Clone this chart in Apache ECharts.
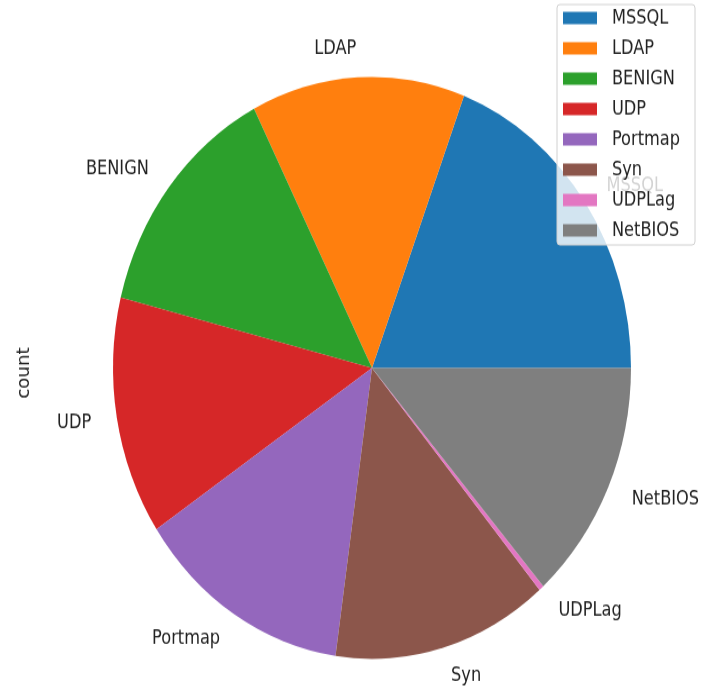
<!DOCTYPE html>
<html>
<head>
<meta charset="utf-8">
<script src="https://cdn.jsdelivr.net/npm/echarts@6/dist/echarts.min.js"></script>
<style>
html,body{margin:0;padding:0;background:#fff;overflow:hidden;}
#wrap{width:703px;height:691px;overflow:hidden;}
#chart{width:703px;height:615px;transform:scaleY(1.1236);transform-origin:0 0;}
</style>
</head>
<body>
<div id="wrap"><div id="chart"></div></div>
<script>
const categories = ['MSSQL','LDAP','BENIGN','UDP','Portmap','Syn','UDPLag','NetBIOS'];
const counts = [69.2, 47.9, 48.9, 47.7, 48.2, 48.4, 1.1, 48.6];
const colors = ['#1f77b4','#ff7f0e','#2ca02c','#d62728','#9467bd','#8c564b','#e377c2','#7f7f7f'];
const yLabel = 'count';

const FONT = "'DejaVu Sans Condensed', 'DejaVu Sans', sans-serif";
const chart = echarts.init(document.getElementById('chart'), null, {renderer:'canvas'});
const data = categories.map((c,i)=>({name:c, value:counts[i], itemStyle:{color:colors[i]}}));
chart.setOption({
  animation:false,
  legend:{
    orient:'vertical', left:557, top:4,
    padding:[3,15,4,6],
    itemWidth:34, itemHeight:11, itemGap:9,
    icon:'rect',
    backgroundColor:'rgba(255,255,255,0.8)',
    borderColor:'#d0d0d0', borderWidth:1, borderRadius:3,
    textStyle:{fontFamily:FONT, fontSize:18, color:'#222', padding:[0,0,0,10]},
    data:categories
  },
  graphic:[{
    type:'text', x:24, y:332, rotation:Math.PI/2,
    style:{text:yLabel, font:'18px ' + FONT, fill:'#222', align:'center', verticalAlign:'middle'}
  }],
  series:[{
    type:'pie',
    center:[372,327.4],
    radius:259,
    startAngle:0,
    clockwise:false,
    avoidLabelOverlap:false,
    itemStyle:{borderWidth:0},
    label:{show:true, position:'outside', fontFamily:FONT, fontSize:18, color:'#222', distanceToLabelLine:0},
    labelLine:{show:false, length:26, length2:0},
    emphasis:{disabled:true},
    data:data
  }]
});
</script>
</body>
</html>
